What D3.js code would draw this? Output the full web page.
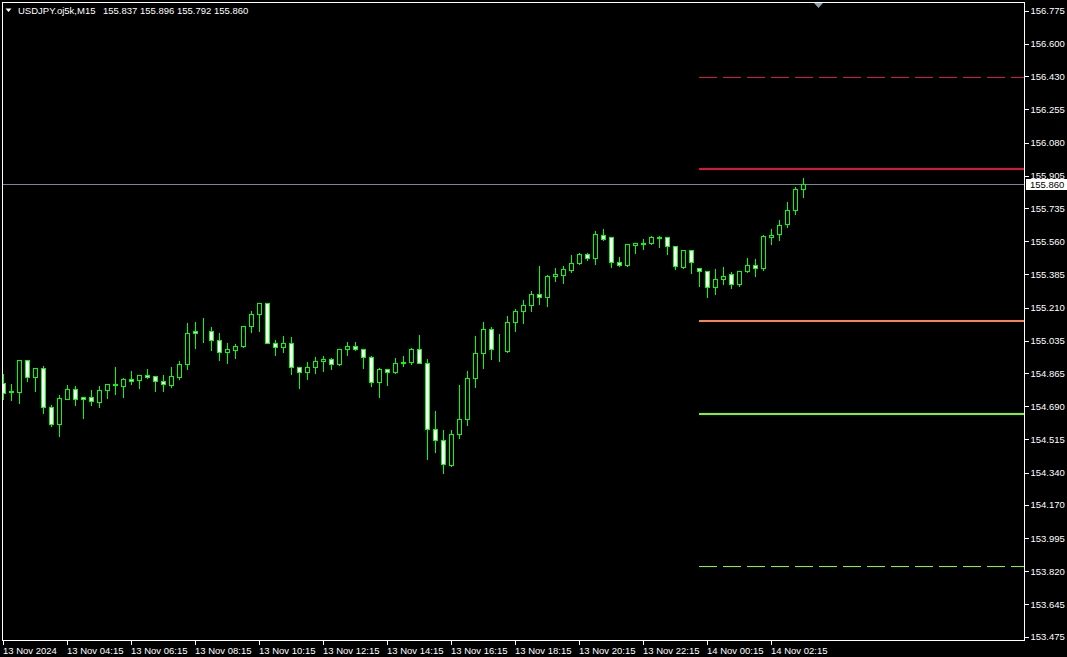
<!DOCTYPE html>
<html>
<head>
<meta charset="utf-8">
<script src="https://cdn.jsdelivr.net/npm/d3@7"></script>
<style>
html,body{margin:0;padding:0;background:#000;overflow:hidden;}
svg{display:block;}
text{font-family:"Liberation Sans",Arial,sans-serif;}
</style>
</head>
<body>
<svg id="chart" width="1067" height="657"></svg>
<script>
// ---- data ----
const symbol = "USDJPY.oj5k,M15";
const lastQuote = [155.837, 155.896, 155.792, 155.860];
const bidPrice = 155.860;

const open = [154.811,154.768,154.766,154.932,154.845,154.890,154.685,154.598,154.729,154.780,
154.738,154.737,154.714,154.773,154.809,154.798,154.833,154.826,154.852,154.847,
154.823,154.803,154.845,154.911,155.087,155.087,155.087,155.038,154.977,154.988,
155.006,155.115,155.175,155.233,155.023,155.002,155.023,154.895,154.869,154.895,
154.926,154.937,154.911,154.990,155.008,154.993,154.948,154.816,154.884,154.869,
154.921,154.921,154.990,154.916,154.570,154.510,154.380,154.542,154.621,154.837,
154.969,155.097,154.987,154.982,155.132,155.190,155.222,155.280,155.264,155.375,
155.384,155.410,155.443,155.490,155.469,155.590,155.580,155.448,155.436,155.541,
155.548,155.548,155.580,155.580,155.532,155.424,155.511,155.417,155.401,155.317,
155.359,155.386,155.333,155.401,155.433,155.417,155.584,155.596,155.649,155.723,
155.837];
const high = [154.863,154.814,154.934,154.939,154.895,154.905,154.700,154.752,154.807,154.800,
154.744,154.781,154.802,154.809,154.902,154.844,154.881,154.853,154.891,154.847,
154.860,154.902,154.932,155.134,155.139,155.160,155.111,155.081,155.029,155.022,
155.118,155.197,155.240,155.240,155.045,155.066,155.060,154.897,154.928,154.954,
154.960,154.949,154.995,155.034,155.034,154.995,154.958,154.895,154.890,154.948,
154.960,155.002,155.071,154.942,154.670,154.570,154.570,154.807,154.881,155.066,
155.139,155.113,155.076,155.171,155.208,155.255,155.303,155.435,155.386,155.424,
155.433,155.492,155.501,155.501,155.618,155.629,155.582,155.481,155.543,155.550,
155.576,155.592,155.592,155.587,155.534,155.518,155.513,155.422,155.408,155.418,
155.427,155.401,155.407,155.475,155.469,155.596,155.628,155.676,155.770,155.851,
155.896];
const low = [154.728,154.723,154.709,154.824,154.772,154.656,154.588,154.534,154.727,154.698,
154.629,154.698,154.688,154.735,154.756,154.738,154.808,154.787,154.840,154.772,
154.772,154.793,154.835,154.887,154.999,155.031,154.988,154.935,154.919,154.945,
155.004,155.083,155.088,155.023,154.960,154.977,154.861,154.787,154.834,154.866,
154.875,154.887,154.909,154.958,154.986,154.893,154.798,154.738,154.802,154.865,
154.903,154.911,154.916,154.410,154.450,154.336,154.376,154.524,154.593,154.793,
154.893,154.940,154.930,154.977,155.088,155.130,155.194,155.229,155.220,155.352,
155.341,155.399,155.439,155.462,155.441,155.566,155.425,155.429,155.431,155.499,
155.520,155.547,155.531,155.494,155.413,155.418,155.393,155.325,155.267,155.283,
155.333,155.311,155.325,155.396,155.375,155.407,155.543,155.564,155.633,155.702,
155.792];
const close = [154.761,154.765,154.932,154.845,154.890,154.685,154.598,154.731,154.780,154.727,
154.727,154.716,154.775,154.809,154.803,154.833,154.823,154.853,154.846,154.823,
154.809,154.847,154.911,155.076,155.076,155.085,155.037,154.977,154.990,155.008,
155.113,155.176,155.233,155.023,155.002,155.023,154.895,154.869,154.895,154.926,
154.937,154.911,154.990,155.008,154.993,154.948,154.816,154.884,154.869,154.916,
154.920,154.990,154.919,154.570,154.510,154.384,154.542,154.621,154.837,154.969,
155.097,154.990,154.984,155.132,155.190,155.222,155.280,155.264,155.375,155.386,
155.412,155.443,155.490,155.469,155.596,155.573,155.448,155.436,155.543,155.550,
155.547,155.580,155.579,155.532,155.427,155.511,155.448,155.401,155.317,155.359,
155.375,155.333,155.401,155.433,155.417,155.586,155.590,155.644,155.723,155.837,
155.860];

const priceTicks = [156.775,156.600,156.430,156.255,156.080,155.905,155.735,155.560,155.385,155.210,
155.035,154.865,154.690,154.515,154.340,154.170,153.995,153.820,153.645,153.475];
const timeTickIdx = [0,8,16,24,32,40,48,56,64,72,80,88,96];
const timeTickLabels = ["13 Nov 2024","13 Nov 04:15","13 Nov 06:15","13 Nov 08:15","13 Nov 10:15",
"13 Nov 12:15","13 Nov 14:15","13 Nov 16:15","13 Nov 18:15","13 Nov 20:15","13 Nov 22:15",
"14 Nov 00:15","14 Nov 02:15"];

const levelPrices = [156.427, 155.940, 155.139, 154.651, 153.846];
const levelStartIdx = 87;
</script>
<script>
const W = 1067, H = 657;
const L = 2, T = 2, R = 1024, B = 640;
const svg = d3.select("#chart");
svg.append("rect").attr("width", W).attr("height", H).attr("fill", "#000");

const n = open.length;
const x = d3.scaleLinear().domain([0, 100]).range([3, 803]);
const y = d3.scaleLinear().domain([153.475, 156.775]).range([636.7, 10.7]);

svg.append("defs").append("clipPath").attr("id", "plot")
  .append("rect").attr("x", L + 1).attr("y", T + 1).attr("width", R - L - 1).attr("height", B - T - 1);

const plot = svg.append("g").attr("clip-path", "url(#plot)");

// level lines
const levelStyle = [
  {color: "#DC143C", w: 1, dash: "18,6"},
  {color: "#DC143C", w: 2, dash: null},
  {color: "#FF7F50", w: 2, dash: null},
  {color: "#7CFC00", w: 2, dash: null},
  {color: "#7CFC00", w: 1, dash: "18,6"}
];
levelPrices.forEach((p, i) => {
  const s = levelStyle[i];
  const yy = s.w === 1 ? Math.round(y(p)) + 0.5 : Math.round(y(p));
  const ln = plot.append("line")
    .attr("x1", x(levelStartIdx)).attr("x2", R)
    .attr("y1", yy).attr("y2", yy)
    .attr("stroke", s.color).attr("stroke-width", s.w)
    .attr("shape-rendering", "crispEdges");
  if (s.dash) ln.attr("stroke-dasharray", s.dash);
});

// bid line
const yb = Math.round(y(bidPrice)) + 0.5;
plot.append("line").attr("x1", L).attr("x2", R).attr("y1", yb).attr("y2", yb)
  .attr("stroke", "#778899").attr("stroke-width", 1).attr("shape-rendering", "crispEdges");

// candles
const idx = d3.range(n);
const cg = plot.append("g").attr("shape-rendering", "crispEdges");
cg.selectAll("line.wick").data(idx).join("line").attr("class", "wick")
  .attr("x1", i => x(i) + 0.5).attr("x2", i => x(i) + 0.5)
  .attr("y1", i => Math.round(y(high[i])) + 0.5)
  .attr("y2", i => Math.round(y(low[i])) + 0.5)
  .attr("stroke", "#00FF00").attr("stroke-width", 1);
cg.selectAll("rect.body").data(idx).join("rect").attr("class", "body")
  .attr("x", i => x(i) - 1.5)
  .attr("y", i => Math.round(y(Math.max(open[i], close[i]))) + 0.5)
  .attr("width", 4)
  .attr("height", i => Math.max(0, Math.round(y(Math.min(open[i], close[i]))) - Math.round(y(Math.max(open[i], close[i])))))
  .attr("fill", i => close[i] > open[i] ? "#000" : "#FFFFFF")
  .attr("stroke", "#00FF00").attr("stroke-width", 1);

// frame
svg.append("rect").attr("x", L + 0.5).attr("y", T + 0.5).attr("width", R - L).attr("height", B - T)
  .attr("fill", "none").attr("stroke", "#FFFFFF").attr("stroke-width", 1).attr("shape-rendering", "crispEdges");

// price axis
const ya = svg.append("g").attr("transform", `translate(${R + 0.5},0)`)
  .call(d3.axisRight(y).tickValues(priceTicks).tickSize(4).tickPadding(2).tickFormat(d3.format(".3f")));
ya.select(".domain").remove();
ya.selectAll(".tick line").attr("stroke", "#FFFFFF").attr("shape-rendering", "crispEdges");
ya.selectAll(".tick text").attr("fill", "#FFFFFF").attr("font-size", "9.5px")
  .attr("font-family", "'Liberation Sans',Arial,sans-serif");

// time axis
const xa = svg.append("g").attr("transform", `translate(0,${B + 0.5})`)
  .call(d3.axisBottom(d3.scaleLinear().domain([0, 100]).range([2.5, 802.5]))
    .tickValues(timeTickIdx).tickSize(4).tickPadding(3)
    .tickFormat((d, i) => timeTickLabels[i]));
xa.select(".domain").remove();
xa.selectAll(".tick line").attr("stroke", "#FFFFFF").attr("shape-rendering", "crispEdges");
xa.selectAll(".tick text").attr("fill", "#FFFFFF").attr("font-size", "9.5px")
  .attr("text-anchor", "start").attr("x", 0)
  .attr("font-family", "'Liberation Sans',Arial,sans-serif");

// bid price label
svg.append("rect").attr("x", R + 2).attr("y", Math.round(y(bidPrice)) - 5).attr("width", W - R - 2).attr("height", 11)
  .attr("fill", "#FFFFFF");
svg.append("text").attr("x", R + 6).attr("y", Math.round(y(bidPrice)) + 4)
  .attr("fill", "#000").attr("font-size", "9.5px").text(d3.format(".3f")(bidPrice));

// header
svg.append("path").attr("d", "M5.5,8.5 L11.5,8.5 L8.5,12 Z").attr("fill", "#FFFFFF");
svg.append("text").attr("x", 18).attr("y", 13.5).attr("fill", "#FFFFFF").attr("font-size", "9.5px").text(symbol);
svg.append("text").attr("x", 103).attr("y", 13.5).attr("fill", "#FFFFFF").attr("font-size", "9.5px")
  .text(lastQuote.map(d3.format(".3f")).join(" "));

// shift marker
svg.append("path").attr("d", "M814,3 L823,3 L818.5,8 Z").attr("fill", "#8FA0B0");
</script>
</body>
</html>
